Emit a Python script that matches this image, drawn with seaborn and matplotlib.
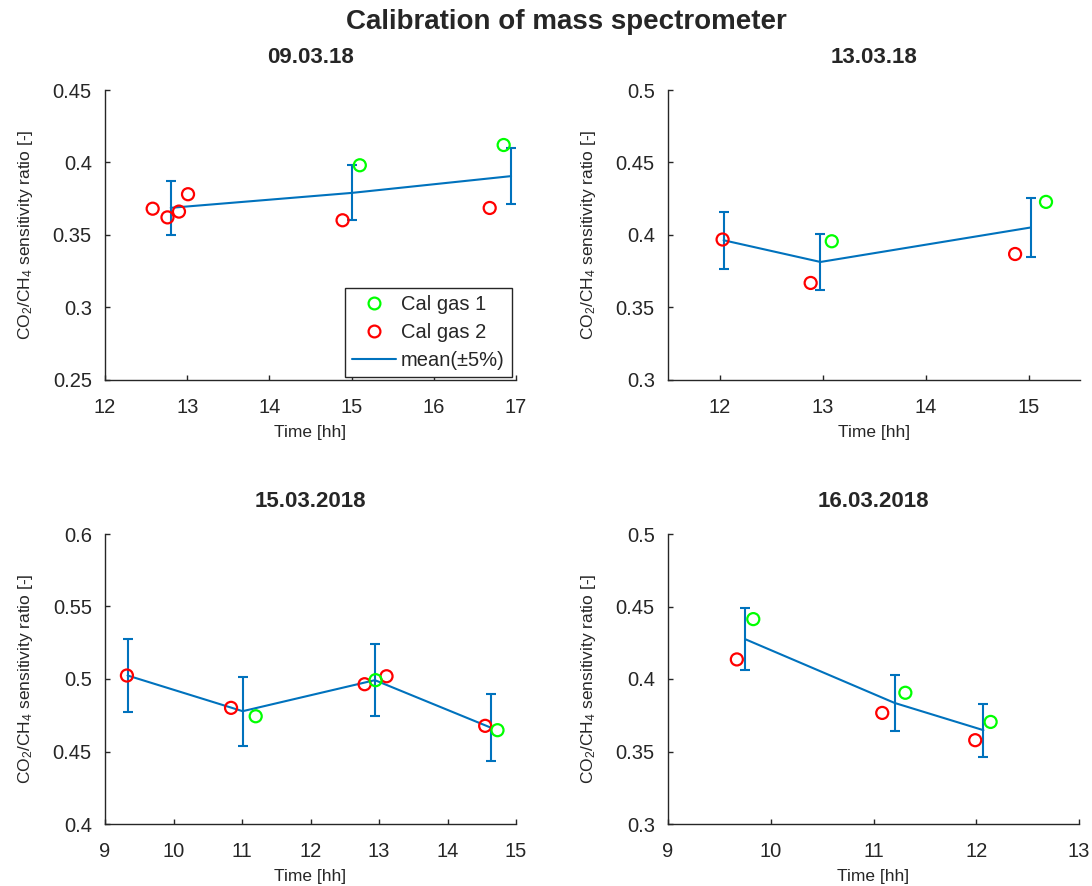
import numpy as np
import pandas as pd
import seaborn as sns
import matplotlib
matplotlib.use("Agg")
import matplotlib.pyplot as plt
from matplotlib.lines import Line2D
from matplotlib.ticker import FuncFormatter

# ---------------- data ----------------
suptitle = "Calibration of mass spectrometer"
titles = ["09.03.18", "13.03.18", "15.03.2018", "16.03.2018"]

p1_gas1_t = [15.10, 16.85]
p1_gas1_v = [0.398, 0.412]
p1_gas2_t = [12.58, 12.76, 12.90, 13.01, 14.89, 16.68]
p1_gas2_v = [0.368, 0.362, 0.366, 0.378, 0.360, 0.3685]
p1_mean_t = [12.80, 15.00, 16.94]
p1_mean_v = [0.3686, 0.3789, 0.3905]

p2_gas1_t = [13.09, 15.17]
p2_gas1_v = [0.3955, 0.4227]
p2_gas2_t = [12.03, 12.885, 14.87]
p2_gas2_v = [0.3967, 0.3667, 0.3867]
p2_mean_t = [12.04, 12.98, 15.02]
p2_mean_v = [0.3962, 0.3812, 0.4050]

p3_gas1_t = [11.20, 12.95, 14.73]
p3_gas1_v = [0.4743, 0.4992, 0.4647]
p3_gas2_t = [9.32, 10.84, 12.79, 13.11, 14.55]
p3_gas2_v = [0.5024, 0.4801, 0.4964, 0.5019, 0.4677]
p3_mean_t = [9.33, 11.01, 12.94, 14.63]
p3_mean_v = [0.5024, 0.4778, 0.4992, 0.4665]

p4_gas1_t = [9.83, 11.31, 12.14]
p4_gas1_v = [0.4413, 0.3905, 0.3704]
p4_gas2_t = [9.67, 11.085, 11.99]
p4_gas2_v = [0.4135, 0.3766, 0.3578]
p4_mean_t = [9.75, 11.205, 12.07]
p4_mean_v = [0.4275, 0.3835, 0.3647]

err_frac = 0.05

xlims = [(12, 17), (11.5, 15.5), (9, 15), (9, 13)]
xticks = [[12, 13, 14, 15, 16, 17], [12, 13, 14, 15], [9, 10, 11, 12, 13, 14, 15], [9, 10, 11, 12, 13]]
ylims = [(0.25, 0.45), (0.3, 0.5), (0.4, 0.6), (0.3, 0.5)]
yticks = [[0.25, 0.3, 0.35, 0.4, 0.45], [0.3, 0.35, 0.4, 0.45, 0.5],
          [0.4, 0.45, 0.5, 0.55, 0.6], [0.3, 0.35, 0.4, 0.45, 0.5]]

legend_labels = ["Cal gas 1", "Cal gas 2", "mean(\u00b15%)"]
xlabel = "Time [hh]"
ylabel = "CO$_2$/CH$_4$ sensitivity ratio [-]"

# ---------------- style ----------------
sns.set_style("white")
plt.rcParams["font.family"] = ["Liberation Sans", "DejaVu Sans"]
plt.rcParams["mathtext.fontset"] = "custom"
plt.rcParams["mathtext.rm"] = "Liberation Sans"
plt.rcParams["mathtext.it"] = "Liberation Sans:italic"
plt.rcParams["mathtext.default"] = "regular"

AX_COL = "#262626"
GREEN = "#00ff00"
RED = "#ff0000"
BLUE = "#0072bd"

W, H = 1092, 886
fig = plt.figure(figsize=(W / 100, H / 100), dpi=100)

def fr(left, top, right, bottom):
    return [left / W, 1 - bottom / H, (right - left) / W, (bottom - top) / H]

positions = [fr(105, 90, 516, 379.5), fr(668, 90, 1080, 379.5),
             fr(105, 534, 516, 824), fr(668, 534, 1079, 824)]

panels = [
    (p1_gas1_t, p1_gas1_v, p1_gas2_t, p1_gas2_v, p1_mean_t, p1_mean_v),
    (p2_gas1_t, p2_gas1_v, p2_gas2_t, p2_gas2_v, p2_mean_t, p2_mean_v),
    (p3_gas1_t, p3_gas1_v, p3_gas2_t, p3_gas2_v, p3_mean_t, p3_mean_v),
    (p4_gas1_t, p4_gas1_v, p4_gas2_t, p4_gas2_v, p4_mean_t, p4_mean_v),
]

fmt = FuncFormatter(lambda v, p: "%g" % round(v, 4))

for i, (g1t, g1v, g2t, g2v, mt, mv) in enumerate(panels):
    ax = fig.add_axes(positions[i])
    mt = np.asarray(mt)
    mv = np.asarray(mv)
    # mean line
    sns.lineplot(x=mt, y=mv, ax=ax, color=BLUE, linewidth=1.5, sort=False, zorder=2)
    ax.errorbar(mt, mv, yerr=err_frac * mv, fmt="none", ecolor=BLUE,
                elinewidth=1.5, capsize=3.5, capthick=1.5, zorder=2)
    # points
    for t, v, c in [(g2t, g2v, RED), (g1t, g1v, GREEN)]:
        sns.scatterplot(x=t, y=v, ax=ax, marker="o", s=75, color=c, zorder=3)
        coll = ax.collections[-1]
        coll.set_facecolor("none")
        coll.set_edgecolor(c)
        coll.set_linewidth(1.6)

    ax.set_xlim(*xlims[i])
    ax.set_ylim(*ylims[i])
    ax.set_xticks(xticks[i])
    ax.set_yticks(yticks[i])
    ax.yaxis.set_major_formatter(fmt)
    ax.xaxis.set_major_formatter(fmt)
    for s in ["top", "right"]:
        ax.spines[s].set_visible(False)
    for s in ["left", "bottom"]:
        ax.spines[s].set_color(AX_COL)
        ax.spines[s].set_linewidth(1.0)
    ax.tick_params(direction="in", length=3.5, width=1.0, color=AX_COL,
                   labelcolor=AX_COL, labelsize=14.5, bottom=True, left=True,
                   top=False, right=False)
    ax.tick_params(axis="y", pad=9.5)
    ax.tick_params(axis="x", pad=13)
    ax.set_xlabel(xlabel, fontsize=12.5, color=AX_COL, labelpad=6)
    ax.set_ylabel(ylabel, fontsize=12.5, color=AX_COL, labelpad=13)
    ax.set_title(titles[i], fontsize=16, fontweight="bold", pad=19.5)

    if i == 0:
        handles = [
            Line2D([], [], marker="o", linestyle="none", markerfacecolor="none",
                   markeredgecolor=GREEN, markeredgewidth=1.6, markersize=8.5),
            Line2D([], [], marker="o", linestyle="none", markerfacecolor="none",
                   markeredgecolor=RED, markeredgewidth=1.6, markersize=8.5),
            Line2D([], [], color=BLUE, linewidth=1.5),
        ]
        leg = ax.legend(handles, legend_labels, loc="lower right",
                        bbox_to_anchor=(0.990, 0.009), borderaxespad=0,
                        fontsize=14.5, frameon=True, fancybox=False,
                        framealpha=1, edgecolor=AX_COL, handlelength=2.2,
                        labelspacing=0.45, borderpad=0.35, handletextpad=0.25)
        leg.get_frame().set_linewidth(1.0)
        for t in leg.get_texts():
            t.set_color(AX_COL)

fig.text(566 / W, 1 - 22 / H, suptitle, ha="center", va="center",
         fontsize=20, fontweight="bold")

fig.savefig("out.png", dpi=100)
